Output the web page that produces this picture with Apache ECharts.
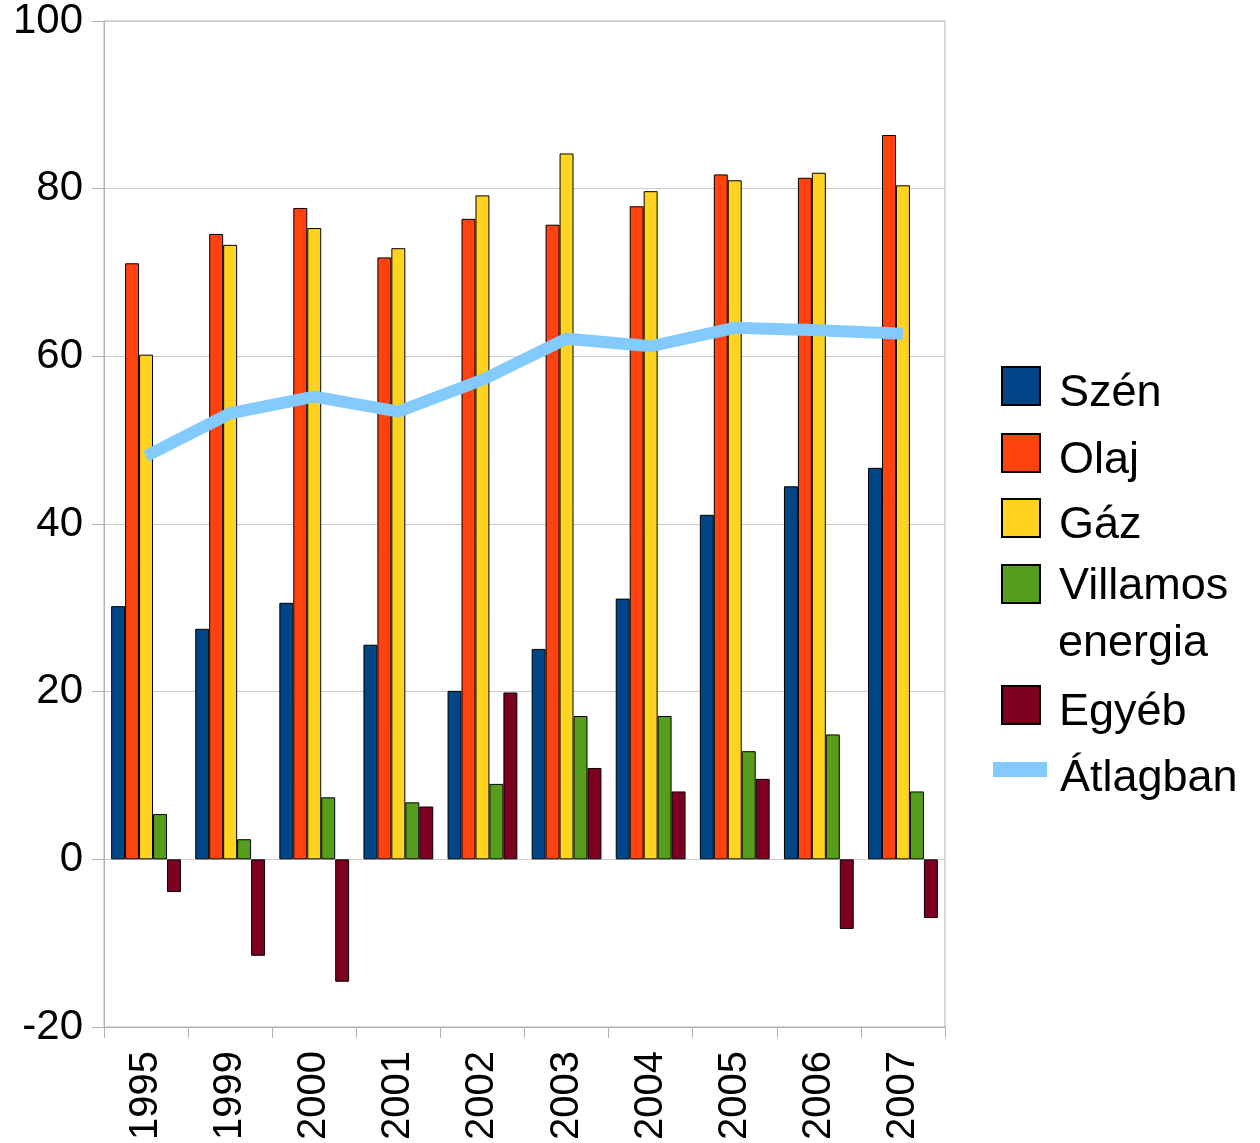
<!DOCTYPE html>
<html>
<head>
<meta charset="utf-8">
<script src="https://cdn.jsdelivr.net/npm/echarts@6/dist/echarts.min.js"></script>
<style>
html,body{margin:0;padding:0;background:#fff;}
#main{width:1260px;height:1143px;}
</style>
</head>
<body>
<div id="main"></div>
<script>
var categories = ['1995','1999','2000','2001','2002','2003','2004','2005','2006','2007'];
var szen     = [30.2, 27.5, 30.6, 25.6, 20.1, 25.1, 31.1, 41.1, 44.5, 46.7];
var olaj     = [71.1, 74.6, 77.7, 71.8, 76.4, 75.7, 77.9, 81.7, 81.3, 86.4];
var gaz      = [60.2, 73.3, 75.3, 72.9, 79.2, 84.2, 79.7, 81.0, 81.9, 80.4];
var villamos = [5.4, 2.4, 7.4, 6.8, 9.0, 17.1, 17.1, 12.9, 14.9, 8.1];
var egyeb    = [-3.9, -11.5, -14.6, 6.3, 19.9, 10.9, 8.1, 9.6, -8.3, -7.0];
var atlag    = [48.1, 53.2, 55.2, 53.4, 57.2, 62.1, 61.2, 63.4, 63.1, 62.7];
var yTicks   = [-20, 0, 20, 40, 60, 80, 100];

var FONT = 'Liberation Sans';
var LFS = 45;
var chart = echarts.init(document.getElementById('main'), null, {renderer:'canvas'});

function bar(name, data, color) {
  return {
    name: name, type: 'bar', data: data,
    barGap: '0%', barCategoryGap: '17%',
    itemStyle: {color: color, borderColor: '#000', borderWidth: 1},
    emphasis: {disabled: true},
    z: 2
  };
}

function richText(p) {
  return {t: {fontFamily: FONT, fontSize: LFS, color: '#000', padding: [p, 0, 0, 0]}};
}

function sqLegend(name, iconTop, label, p) {
  return {
    orient: 'vertical', left: 1001, top: iconTop, padding: 0,
    itemWidth: 38, itemHeight: 38, icon: 'rect', selectedMode: false,
    data: [name],
    formatter: function () { return '{t|' + label + '}'; },
    textStyle: {fontFamily: FONT, fontSize: LFS, color: '#000', padding: [0, 0, 0, 14], rich: richText(p)}
  };
}

chart.setOption({
  animation: false,
  backgroundColor: '#fff',
  grid: {left: 104, top: 20, right: 315, bottom: 115, show: true, borderColor: '#b3b3b3', borderWidth: 1},
  legend: [
    sqLegend('Szén', 366, 'Szén', 16),
    sqLegend('Olaj', 433, 'Olaj', 16),
    sqLegend('Gáz', 498, 'Gáz', 16),
    sqLegend('Villamos energia', 564, 'Villamos', 5),
    sqLegend('Egyéb', 685, 'Egyéb', 16),
    {
      orient: 'vertical', left: 993, top: 756, padding: 0,
      itemWidth: 54, itemHeight: 15,
      selectedMode: false,
      data: [{name: 'Átlagban', icon: 'rect', itemStyle: {color: '#83caff', borderWidth: 0}}],
      formatter: function (n) { return '{t|' + n + '}'; },
      textStyle: {fontFamily: FONT, fontSize: LFS, color: '#000', padding: [0, 0, 0, 8], rich: richText(18)}
    }
  ],
  graphic: [{
    type: 'text', x: 1058, y: 644,
    style: {text: 'energia', font: LFS + 'px "Liberation Sans"', fill: '#000', align: 'left', verticalAlign: 'middle'}
  }],
  xAxis: {
    type: 'category', data: categories,
    boundaryGap: true,
    axisLine: {onZero: false, lineStyle: {color: '#b3b3b3', width: 1}},
    axisTick: {show: true, length: 11, alignWithLabel: false, lineStyle: {color: '#b3b3b3'}},
    axisLabel: {rotate: 90, margin: 24, fontFamily: FONT, fontSize: 40, color: '#000'}
  },
  yAxis: {
    type: 'value', min: yTicks[0], max: yTicks[yTicks.length-1], interval: 20,
    axisLine: {show: true, lineStyle: {color: '#b3b3b3', width: 1}},
    axisTick: {show: true, length: 12, lineStyle: {color: '#b3b3b3'}},
    axisLabel: {margin: 21, fontFamily: FONT, fontSize: 42, color: '#000'},
    splitLine: {show: true, lineStyle: {color: '#cccccc', width: 1}}
  },
  series: [
    bar('Szén', szen, '#004586'),
    bar('Olaj', olaj, '#ff420e'),
    bar('Gáz', gaz, '#ffd320'),
    bar('Villamos energia', villamos, '#579d1c'),
    bar('Egyéb', egyeb, '#7e0021'),
    {
      name: 'Átlagban', type: 'line', data: atlag,
      symbol: 'none', showSymbol: false,
      lineStyle: {color: '#83caff', width: 12, cap: 'butt', join: 'miter'},
      itemStyle: {color: '#83caff'},
      emphasis: {disabled: true},
      z: 5
    }
  ]
});
</script>
</body>
</html>
